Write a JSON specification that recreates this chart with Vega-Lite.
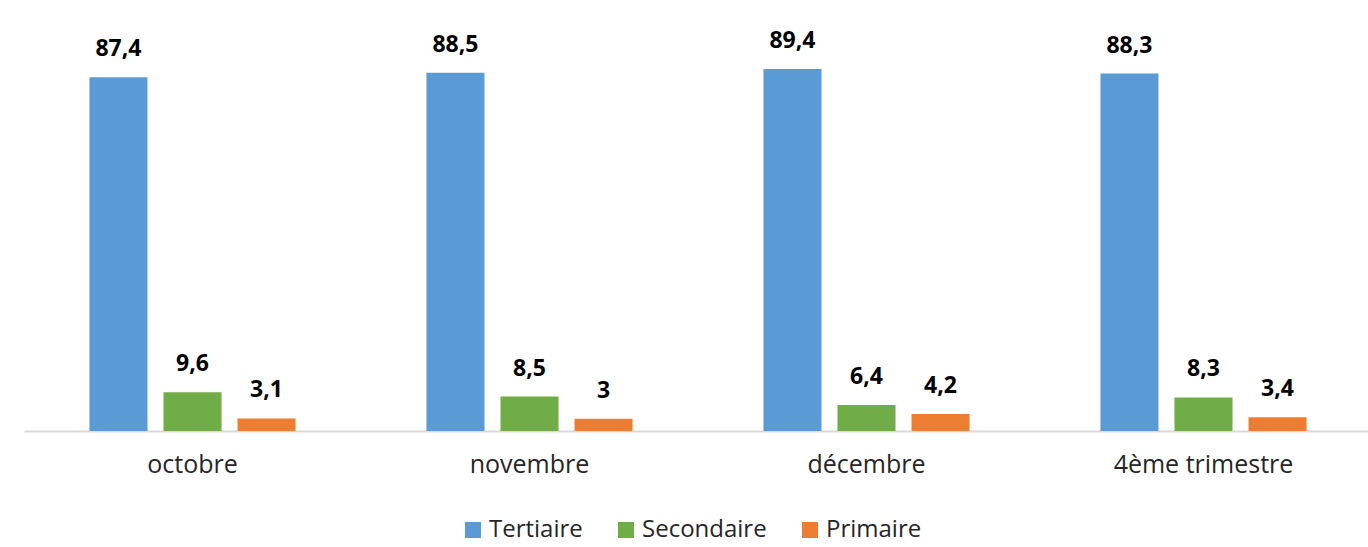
{
  "$schema": "https://vega.github.io/schema/vega-lite/v6.json",
  "width": 1348,
  "height": 421,
  "autosize": {"type": "none"},
  "padding": {"left": 24, "top": 10, "right": 0, "bottom": 116},
  "background": "white",
  "config": {"view": {"stroke": null}, "font": "Open Sans"},
  "data": {
    "values": [
      {"mois": "octobre", "secteur": "Tertiaire", "valeur": 87.4, "label": "87,4"},
      {"mois": "octobre", "secteur": "Secondaire", "valeur": 9.6, "label": "9,6"},
      {"mois": "octobre", "secteur": "Primaire", "valeur": 3.1, "label": "3,1"},
      {"mois": "novembre", "secteur": "Tertiaire", "valeur": 88.5, "label": "88,5"},
      {"mois": "novembre", "secteur": "Secondaire", "valeur": 8.5, "label": "8,5"},
      {"mois": "novembre", "secteur": "Primaire", "valeur": 3.0, "label": "3"},
      {"mois": "décembre", "secteur": "Tertiaire", "valeur": 89.4, "label": "89,4"},
      {"mois": "décembre", "secteur": "Secondaire", "valeur": 6.4, "label": "6,4"},
      {"mois": "décembre", "secteur": "Primaire", "valeur": 4.2, "label": "4,2"},
      {"mois": "4ème trimestre", "secteur": "Tertiaire", "valeur": 88.3, "label": "88,3"},
      {"mois": "4ème trimestre", "secteur": "Secondaire", "valeur": 8.3, "label": "8,3"},
      {"mois": "4ème trimestre", "secteur": "Primaire", "valeur": 3.4, "label": "3,4"}
    ]
  },
  "encoding": {
    "x": {
      "field": "mois", "type": "nominal",
      "sort": ["octobre", "novembre", "décembre", "4ème trimestre"],
      "scale": {"paddingInner": 0.341, "paddingOuter": 0.1705},
      "axis": {
        "title": null, "labelAngle": 0, "ticks": false, "domainColor": "#d9d9d9", "domainWidth": 2,
        "labelFontSize": 25, "labelColor": "#262626", "labelPadding": 21, "grid": false
      }
    },
    "xOffset": {
      "field": "secteur", "type": "nominal",
      "sort": ["Tertiaire", "Secondaire", "Primaire"],
      "scale": {"paddingInner": 0.216, "paddingOuter": 0.108}
    },
    "y": {
      "field": "valeur", "type": "quantitative",
      "scale": {"domain": [0, 104], "nice": false},
      "axis": null
    }
  },
  "layer": [
    {
      "mark": {"type": "bar"},
      "encoding": {
        "color": {
          "field": "secteur", "type": "nominal",
          "sort": ["Tertiaire", "Secondaire", "Primaire"],
          "scale": {"domain": ["Tertiaire", "Secondaire", "Primaire"], "range": ["#5b9bd5", "#70ad47", "#ed7d31"]},
          "legend": {
            "title": null, "orient": "none", "direction": "horizontal", "legendX": 437, "legendY": 508,
            "symbolType": "square", "symbolSize": 256, "symbolStrokeWidth": 0,
            "labelFontSize": 24, "labelColor": "#262626", "labelOffset": 4, "columnPadding": 31
          }
        }
      }
    },
    {
      "mark": {"type": "text", "baseline": "alphabetic", "dy": -21, "fontSize": 23, "fontWeight": "bold", "color": "#000000"},
      "encoding": {"text": {"field": "label"}}
    }
  ]
}
